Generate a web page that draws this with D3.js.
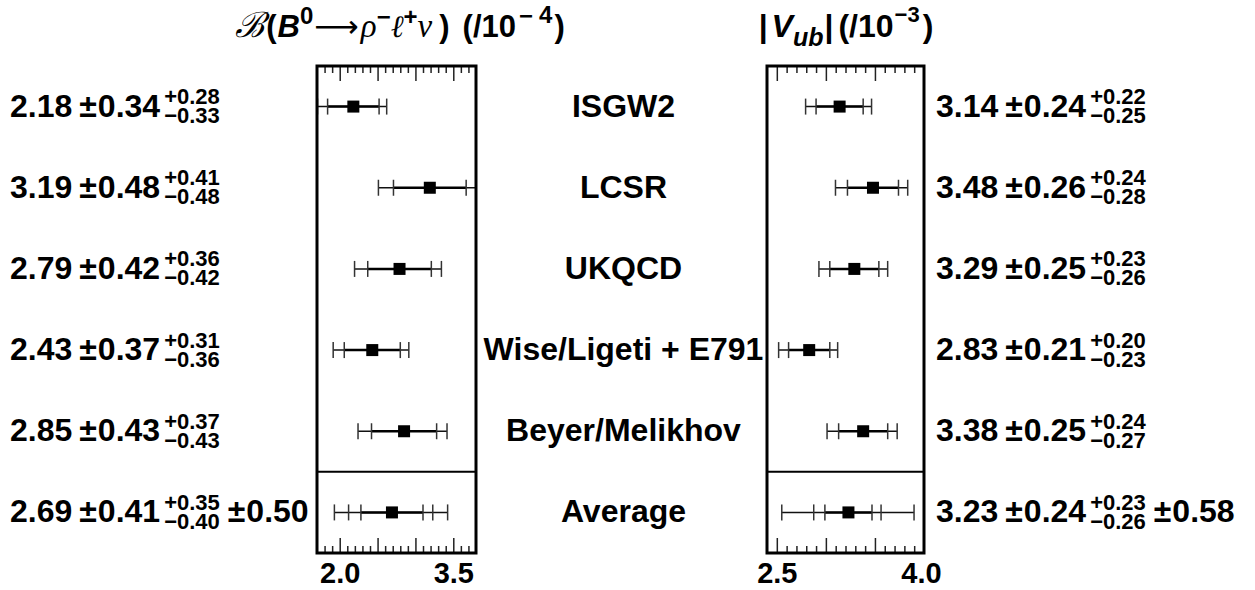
<!DOCTYPE html>
<html><head><meta charset="utf-8">
<script src="https://cdn.jsdelivr.net/npm/d3@7"></script>
<style>body{margin:0;background:#fff}svg{display:block}</style>
</head><body>
<svg id="c" width="1255" height="590"></svg>
<script>
// ---- data ----
const models = ["ISGW2", "LCSR", "UKQCD", "Wise/Ligeti + E791", "Beyer/Melikhov", "Average"];
const brVal    = [2.18, 3.19, 2.79, 2.43, 2.85, 2.69];
const brStat   = [0.34, 0.48, 0.42, 0.37, 0.43, 0.41];
const brSystUp = [0.28, 0.41, 0.36, 0.31, 0.37, 0.35];
const brSystDn = [0.33, 0.48, 0.42, 0.36, 0.43, 0.40];
const brTheory = [null, null, null, null, null, 0.50];
const vubVal    = [3.14, 3.48, 3.29, 2.83, 3.38, 3.23];
const vubStat   = [0.24, 0.26, 0.25, 0.21, 0.25, 0.24];
const vubSystUp = [0.22, 0.24, 0.23, 0.20, 0.24, 0.23];
const vubSystDn = [0.25, 0.28, 0.26, 0.23, 0.27, 0.26];
const vubTheory = [null, null, null, null, null, 0.58];
const brDomain = [1.7, 3.8];
const vubDomain = [2.4, 4.0];
const brMajorTicks = [2.0, 2.5, 3.0, 3.5];
const brMinorTicks = [1.8, 1.9, 2.1, 2.2, 2.3, 2.4, 2.6, 2.7, 2.8, 2.9, 3.1, 3.2, 3.3, 3.4, 3.6, 3.7];
const brTickLabels = [2.0, 3.5];
const vubMajorTicks = [2.5, 3.0, 3.5];
const vubMinorTicks = [2.6, 2.7, 2.8, 2.9, 3.1, 3.2, 3.3, 3.4, 3.6, 3.7, 3.8, 3.9];
const vubTickLabels = [2.5, 4.0];

// ---- layout ----
const FONT = "'Liberation Sans', Arial, Helvetica, sans-serif";
const svg = d3.select("#c");
const yTop = 66, yBot = 553;
const y = d3.scaleBand().domain(models).range([yTop, yBot]);
const fmt = d3.format(".2f");
const fmt1 = d3.format(".1f");

function rich(parent, x, yb, segs, anchor) {
  const g = parent.append("g");
  let cx = 0;
  function put(s, at) {
    const t = g.append("text").attr("x", at).attr("y", s.dy || 0)
      .attr("font-family", s.family || FONT)
      .attr("font-size", s.size)
      .attr("font-weight", s.weight || "bold")
      .attr("font-style", s.style || "normal")
      .attr("fill", "#000")
      .text(s.t);
    return t.node().getComputedTextLength();
  }
  segs.forEach(s => {
    cx += s.dx || 0;
    if (s.stack) {
      const w = Math.max(...s.stack.map(q => put(q, cx)));
      cx += w;
    } else {
      cx += put(s, cx);
    }
  });
  let ox = x;
  if (anchor === "middle") ox = x - cx / 2;
  if (anchor === "end") ox = x - cx;
  g.attr("transform", `translate(${ox},${yb})`);
  return cx;
}

function valueLabel(parent, x, yc, v, st, up, dn, th) {
  const segs = [
    {t: fmt(v), size: 32},
    {t: "±", size: 32, dx: 7},
    {t: fmt(st), size: 32, dx: 1},
    {stack: [{t: "+" + fmt(up), size: 22, dy: -12.5}, {t: "\u2212" + fmt(dn), size: 22, dy: 6.5}], dx: 4}
  ];
  if (th != null) {
    segs.push({t: "±", size: 32, dx: 8});
    segs.push({t: fmt(th), size: 32, dx: 1});
  }
  rich(parent, x, yc + 10, segs, "start");
}

const panels = [
  {x0: 317, x1: 476, domain: brDomain, val: brVal, stat: brStat, up: brSystUp, dn: brSystDn, th: brTheory,
   major: brMajorTicks, minor: brMinorTicks, labels: brTickLabels, labX: 10},
  {x0: 767, x1: 924, domain: vubDomain, val: vubVal, stat: vubStat, up: vubSystUp, dn: vubSystDn, th: vubTheory,
   major: vubMajorTicks, minor: vubMinorTicks, labels: vubTickLabels, labX: 936}
];

panels.forEach((p, pi) => {
  const x = d3.scaleLinear().domain(p.domain).range([p.x0, p.x1]);
  const g = svg.append("g");
  const cid = "clip" + pi;
  svg.append("clipPath").attr("id", cid).append("rect")
    .attr("x", p.x0).attr("y", yTop).attr("width", p.x1 - p.x0).attr("height", yBot - yTop);

  // ticks
  const tickStyle = sel => { sel.select(".domain").remove(); sel.selectAll(".tick line").attr("stroke", "#222").attr("stroke-width", 1.5); sel.selectAll(".tick text").remove(); };
  g.append("g").attr("transform", `translate(0,${yBot})`).call(d3.axisBottom(x).tickValues(p.minor).tickSize(-7)).call(tickStyle);
  g.append("g").attr("transform", `translate(0,${yBot})`).call(d3.axisBottom(x).tickValues(p.major).tickSize(-15)).call(tickStyle);
  g.append("g").attr("transform", `translate(0,${yTop})`).call(d3.axisTop(x).tickValues(p.minor).tickSize(-7)).call(tickStyle);
  g.append("g").attr("transform", `translate(0,${yTop})`).call(d3.axisTop(x).tickValues(p.major).tickSize(-15)).call(tickStyle);
  const lab = g.append("g").attr("transform", `translate(0,${yBot})`)
    .call(d3.axisBottom(x).tickValues(p.labels).tickSize(0).tickPadding(9).tickFormat(fmt1));
  lab.select(".domain").remove();
  lab.selectAll("text").attr("font-family", FONT).attr("font-size", 29).attr("font-weight", "bold").attr("fill", "#000")
    .attr("dx", d => (d === p.labels[1] && pi === 1) ? -3 : 0);

  // error bars
  const eg = g.append("g").attr("clip-path", `url(#${cid})`);
  models.forEach((m, i) => {
    const yc = y(m) + y.bandwidth() / 2;
    const v = p.val[i], s = p.stat[i];
    const lvls = [[s, s], [Math.hypot(s, p.dn[i]), Math.hypot(s, p.up[i])]];
    if (p.th[i] != null) lvls.push([Math.hypot(s, p.dn[i], p.th[i]), Math.hypot(s, p.up[i], p.th[i])]);
    const outer = lvls[lvls.length - 1];
    eg.append("line").attr("x1", x(v - outer[0])).attr("x2", x(v + outer[1])).attr("y1", yc).attr("y2", yc)
      .attr("stroke", "#111").attr("stroke-width", 1.5);
    eg.append("line").attr("x1", x(v - s)).attr("x2", x(v + s)).attr("y1", yc).attr("y2", yc)
      .attr("stroke", "#000").attr("stroke-width", 2.5);
    lvls.forEach(l => {
      [v - l[0], v + l[1]].forEach(e => {
        eg.append("line").attr("x1", x(e)).attr("x2", x(e)).attr("y1", yc - 8).attr("y2", yc + 8)
          .attr("stroke", "#333").attr("stroke-width", 1.5);
      });
    });
    eg.append("rect").attr("x", x(v) - 6).attr("y", yc - 6).attr("width", 12).attr("height", 12).attr("fill", "#000");
    valueLabel(svg, p.labX, yc, v, s, p.up[i], p.dn[i], p.th[i]);
  });

  // divider & frame
  g.append("line").attr("x1", p.x0).attr("x2", p.x1).attr("y1", y("Average")).attr("y2", y("Average"))
    .attr("stroke", "#000").attr("stroke-width", 2);
  g.append("rect").attr("x", p.x0).attr("y", yTop).attr("width", p.x1 - p.x0).attr("height", yBot - yTop)
    .attr("fill", "none").attr("stroke", "#000").attr("stroke-width", 3);
});

// model names
models.forEach(m => {
  svg.append("text").attr("x", (476 + 767) / 2 + 2).attr("y", y(m) + y.bandwidth() / 2 + 10)
    .attr("text-anchor", "middle").attr("font-family", FONT).attr("font-size", 32).attr("font-weight", "bold")
    .text(m);
});

// titles
const SER = "'DejaVu Serif', 'Liberation Serif', serif";
const GRK = "'Liberation Serif', serif";
rich(svg, 400, 37, [
  {t: "\u212C", size: 35, family: SER, weight: "normal", style: "italic"},
  {t: "(", size: 31, dx: 2},
  {t: "B", size: 31, style: "italic", dx: 1},
  {t: "0", size: 24, dy: -13},
  {t: "\u27F6", size: 31, weight: "normal", family: "'DejaVu Sans', sans-serif", dx: 1},
  {t: "\u03C1", size: 33, weight: "normal", style: "italic", family: GRK, dx: 2},
  {t: "\u2212", size: 24, dy: -12},
  {t: "\u2113", size: 31, weight: "normal", style: "italic", family: SER},
  {t: "+", size: 24, dy: -12},
  {t: "\u03BD", size: 33, weight: "normal", style: "italic", family: GRK},
  {t: ")", size: 31, dx: 7},
  {t: "(/10", size: 31, dx: 13},
  {t: "\u2212", size: 24, dy: -13, dx: 3},
  {t: "4", size: 24, dy: -14, dx: 6},
  {t: ")", size: 31, dx: 2}
], "middle");

rich(svg, 846, 37, [
  {t: "|", size: 32},
  {t: "V", size: 32, style: "italic", dx: 4},
  {t: "ub", size: 25, style: "italic", dy: 9},
  {t: "|", size: 32, dx: 1},
  {t: "(/10", size: 32, dx: 5},
  {t: "\u22123", size: 22, dy: -15, dx: 1},
  {t: ")", size: 32, dx: 3}
], "middle");
</script>
</body></html>
